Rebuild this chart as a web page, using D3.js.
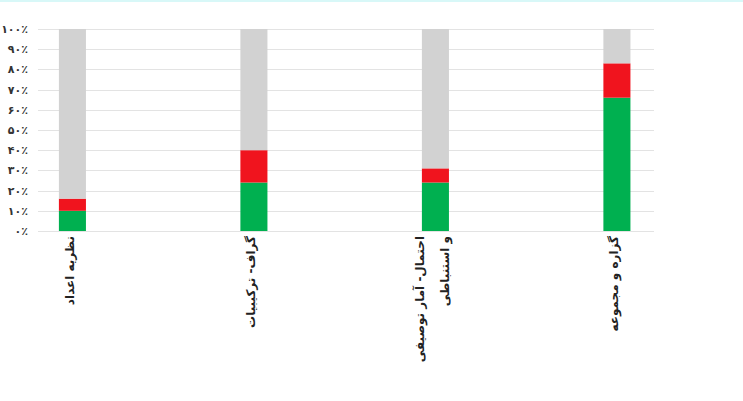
<!DOCTYPE html>
<html>
<head>
<meta charset="utf-8">
<script src="https://cdn.jsdelivr.net/npm/d3@7"></script>
<style>
  html, body { margin: 0; padding: 0; background: #ffffff; }
  svg { display: block; }
  text { font-family: "DejaVu Sans", "Noto Sans", sans-serif; }
</style>
</head>
<body>
<svg id="chart" width="743" height="401"></svg>
<script>
// Topics (second line of a label follows "\n")
const categories = ["نظریه اعداد", "گراف- ترکیبیات", "احتمال- آمار توصیفی\nو استنباطی", "گزاره و مجموعه"];
// Percentages per topic
const correct = [10, 24, 24, 66];
const wrong = [6, 16, 7, 17];
const blank = [84, 60, 69, 17];
const yTicks = [0, 10, 20, 30, 40, 50, 60, 70, 80, 90, 100];

const seriesKeys = ["correct", "wrong", "blank"];
const seriesColors = { correct: "#00b050", wrong: "#f0141e", blank: "#d2d2d2" };

const rows = categories.map((c, i) => ({ cat: c, correct: correct[i], wrong: wrong[i], blank: blank[i] }));

const svg = d3.select("#chart");
const W = 743, H = 401;

// thin frame line along the top edge
svg.append("rect").attr("x", 0).attr("y", 0).attr("width", W).attr("height", 2).attr("fill", "#d8f8f8");

const x = d3.scaleBand().domain(categories).range([38, 654]).paddingInner(0.851).paddingOuter(0.1225).align(0.47);
const y = d3.scaleLinear().domain([0, 100]).range([231, 29]);

const toFa = s => String(s).replace(/[0-9]/g, d => "۰۱۲۳۴۵۶۷۸۹"[+d]);

// grid
svg.append("g").selectAll("line").data(yTicks).join("line")
  .attr("x1", 38).attr("x2", 654)
  .attr("y1", d => Math.round(y(d)) + 0.5).attr("y2", d => Math.round(y(d)) + 0.5)
  .attr("stroke", "#e3e3e3").attr("stroke-width", 1);

// y axis labels
const yAxis = d3.axisLeft(y).tickValues(yTicks).tickSize(0).tickPadding(0)
  .tickFormat(d => toFa(d) + "٪");
const gy = svg.append("g").attr("transform", "translate(28,0)").call(yAxis);
gy.select(".domain").remove();
gy.selectAll("text").attr("font-size", 11).attr("font-weight", "bold").attr("fill", "#333");

// stacked bars
const stack = d3.stack().keys(seriesKeys)(rows);
svg.append("g").selectAll("g").data(stack).join("g")
  .attr("fill", d => seriesColors[d.key])
  .selectAll("rect").data(d => d).join("rect")
  .attr("x", d => x(d.data.cat))
  .attr("width", x.bandwidth())
  .attr("y", d => y(d[1]))
  .attr("height", d => y(d[0]) - y(d[1]));

// category labels, rotated
const xAxis = d3.axisBottom(x).tickSize(0).tickPadding(0).tickFormat("");
const gx = svg.append("g").attr("transform", "translate(0,236)").call(xAxis);
gx.select(".domain").remove();
gx.selectAll(".tick").each(function (cat) {
  const lines = cat.split("\n");
  const t = d3.select(this).append("text")
    .attr("transform", "rotate(-90)")
    .attr("text-anchor", "end")
    .attr("font-size", 12)
    .attr("font-weight", "bold")
    .attr("fill", "#222");
  const n = lines.length;
  lines.forEach((ln, k) => {
    t.append("tspan")
      .attr("x", 0)
      .attr("y", (k - (n - 1) / 2) * 25 - 3)
      .attr("dy", "0.35em")
      .text(ln);
  });
});
</script>
</body>
</html>
